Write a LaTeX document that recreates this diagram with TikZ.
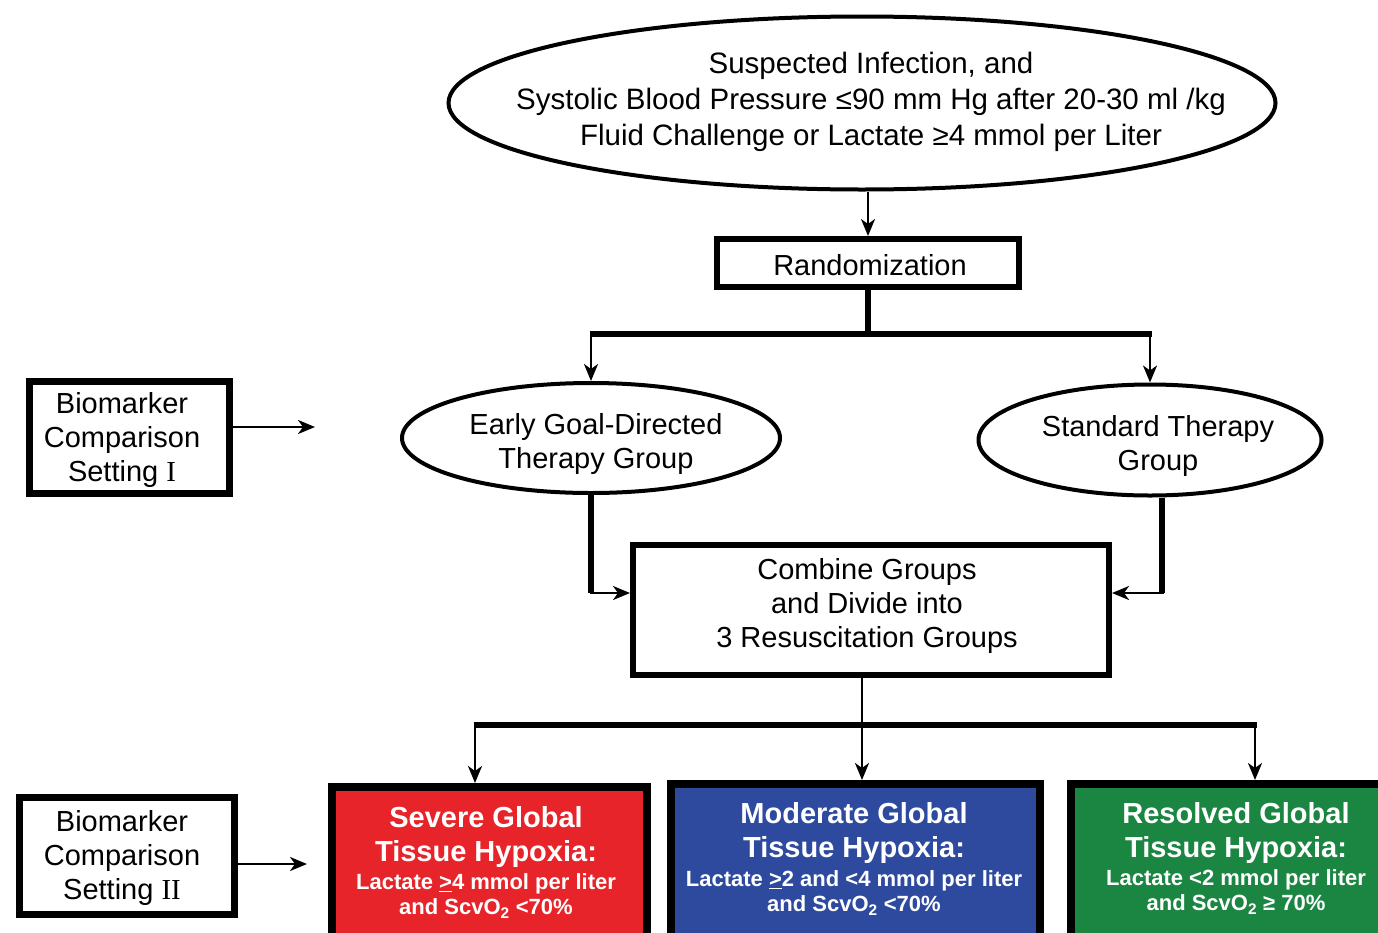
\documentclass[tikz,border=0pt]{standalone}
\usepackage{fontspec}
\setmainfont{Liberation Sans}
\newfontfamily\romannum{Liberation Serif}
\usetikzlibrary{shapes.geometric,arrows.meta,calc}
\definecolor{sevred}{RGB}{230,36,42}
\definecolor{modblue}{RGB}{46,74,158}
\definecolor{resgreen}{RGB}{26,134,66}
\begin{document}
\begin{tikzpicture}[x=1pt,y=-1pt,
  txt/.style={font=\fontsize{29}{34}\selectfont, align=center, inner sep=0pt},
  oval/.style={ellipse, draw, line width=4pt, inner sep=0pt},
  frame/.style={rectangle, draw, line width=6pt, inner sep=0pt},
  sideframe/.style={rectangle, draw, line width=7pt, inner sep=0pt},
  groupbox/.style={rectangle, draw, line width=8pt, inner sep=0pt},
  headtxt/.style={font=\bfseries\fontsize{29}{34}\selectfont, align=center, text=white, inner sep=0pt},
  subtxt/.style={font=\bfseries\fontsize{22}{25}\selectfont, align=center, text=white, inner sep=0pt},
  bar/.style={line width=6pt},
  stem/.style={line width=2.5pt},
  link/.style={line width=2.5pt, -{Stealth[length=17pt,width=14pt,inset=5pt]}}
]
\useasboundingbox (0,0) rectangle (1378,932);
\fill[white] (0,0) rectangle (1378,932);
\clip (0,0) rectangle (1378,932);

% entry criteria
\node[oval, minimum width=827pt, minimum height=173pt] (entry) at (862,103) {};
\node[txt, font=\fontsize{29.5}{36}\selectfont] (entrytext) at (871,102)
  {Suspected Infection, and\\Systolic Blood Pressure ≤90 mm Hg after 20-30 ml /kg\\Fluid Challenge or Lactate ≥4 mmol per Liter};

% randomization
\node[frame, minimum width=302pt, minimum height=48pt] (rand) at (868,263) {};
\node[txt] (randtext) at (870,265) {Randomization};

% study arms
\node[oval, minimum width=378pt, minimum height=110pt] (egdt) at (591,438) {};
\node[txt] (egdttext) at (596,444) {Early Goal-Directed\\Therapy Group};
\node[oval, minimum width=343pt, minimum height=111pt] (std) at (1150,440) {};
\node[txt] (stdtext) at (1158,446) {Standard Therapy\\Group};

% combined cohort
\node[frame, minimum width=476pt, minimum height=130pt] (comb) at (871,610) {};
\node[txt] (combtext) at (867,606) {Combine Groups\\and Divide into\\3 Resuscitation Groups};

% resuscitation groups
\node[groupbox, fill=sevred, minimum width=315pt, minimum height=160pt] (severe) at (489.5,867) {};
\node[groupbox, fill=modblue, minimum width=369pt, minimum height=164pt] (moderate) at (855.5,866) {};
\node[groupbox, fill=resgreen, minimum width=330pt, minimum height=164pt] (resolved) at (1236,866) {};

\node[headtxt] (severeh) at (486,837) {Severe Global\\Tissue Hypoxia:};
\node[subtxt] (severes) at (486,896) {Lactate \underline{>}4 mmol per liter\\and ScvO\textsubscript{2} <70\%};
\node[headtxt] (moderateh) at (854,833) {Moderate Global\\Tissue Hypoxia:};
\node[subtxt] (moderates) at (854,893) {Lactate \underline{>}2 and <4 mmol per liter\\and ScvO\textsubscript{2} <70\%};
\node[headtxt] (resolvedh) at (1236,833) {Resolved Global\\Tissue Hypoxia:};
\node[subtxt] (resolveds) at (1236,892) {Lactate <2 mmol per liter\\and ScvO\textsubscript{2} ≥ 70\%};

% biomarker settings
\node[sideframe, minimum width=200pt, minimum height=112pt] (bio1) at (129.5,437.5) {};
\node[txt] (bio1text) at (122,440) {Biomarker\\Comparison\\Setting {\romannum I}};
\node[sideframe, minimum width=215pt, minimum height=117pt] (bio2) at (127,856) {};
\node[txt] (bio2text) at (122,858) {Biomarker\\Comparison\\Setting {\romannum II}};

% connectors
\coordinate (bl) at (591,334);
\coordinate (br) at (1150,334);
\coordinate (ml) at (475,725);
\coordinate (mr) at (1255,725);
\coordinate (mc) at (862,725);
\coordinate (cl) at ($(comb.west)+(0,-17)$);
\coordinate (cr) at ($(comb.east)+(0,-17)$);
\coordinate (sd) at ($(std.south)+(12,0)$);
\coordinate (e1) at (315,427);
\coordinate (e2) at (307,864);

\draw[link] (rand.north |- entry.south) -- (rand.north);
\draw[bar] (rand.south) -- (rand.south |- bl);
\draw[bar] ($(bl)+(-1.5,0)$) -- ($(br)+(1.5,0)$);
\draw[link] (bl) -- (egdt.north);
\draw[link] (br) -- (std.north);

\draw[bar] (egdt.south) -- (egdt.south |- cl);
\draw[link] ($(egdt.south |- cl)+(-1.5,0)$) -- (cl);
\draw[bar] (sd) -- (sd |- cr);
\draw[link] ($(sd |- cr)+(1.5,0)$) -- (cr);

\draw[stem] (mc |- comb.south) -- (mc);
\draw[bar] ($(ml)+(-1.5,0)$) -- ($(mr)+(1.5,0)$);
\draw[link] (ml) -- (ml |- severe.north);
\draw[link] (mc) -- (mc |- moderate.north);
\draw[link] (mr) -- (mr |- resolved.north);

\draw[link] (bio1.east |- e1) -- (e1);
\draw[link] (bio2.east |- e2) -- (e2);
\end{tikzpicture}
\end{document}
